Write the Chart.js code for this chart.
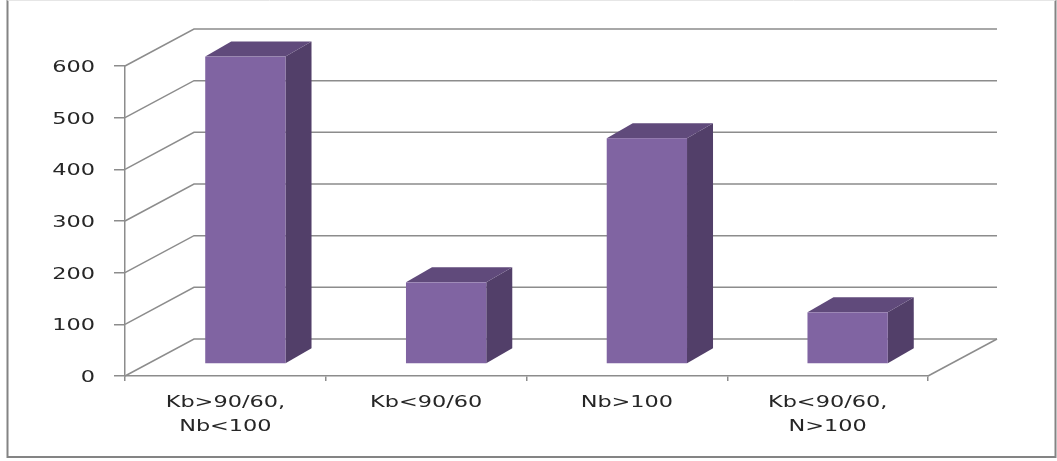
<!DOCTYPE html>
<html>
<head>
<meta charset="utf-8">
<script src="https://cdn.jsdelivr.net/npm/chart.js@4/dist/chart.umd.min.js"></script>
<style>
  html, body { margin: 0; padding: 0; background: #ffffff; }
  #wrap { width: 1057px; height: 461px; position: relative; }
</style>
</head>
<body>
<div id="wrap"><canvas id="c" width="1057" height="461"></canvas></div>
<script>
// ---- data ----
const categories = [["Kb>90/60,", "Nb<100"], ["Kb<90/60"], ["Nb>100"], ["Kb<90/60,", "N>100"]];
const values = [595, 158, 437, 100];
const yMin = 0;
const yMax = 600;
const yStep = 100;

// ---- style ----
const GRID = '#8c8c8c';
const TEXT = '#262626';
const FRONT = '#8064A2';
const SIDE = '#523F69';
const TOP = '#604A7B';
const WALL_DX = 69, WALL_DY = -37;   // depth of the back wall
const BAR_DX = 20, BAR_DY = -12;     // bar front plane offset
const DEPTH_DX = 26, DEPTH_DY = -15; // bar depth
const FONT = '16px "DejaVu Sans"';
const STRETCH = 1.4;

function stretchedText(ctx, txt, x, y, align) {
  ctx.save();
  ctx.translate(x, y);
  ctx.scale(STRETCH, 1);
  ctx.textAlign = align;
  ctx.textBaseline = 'middle';
  ctx.fillText(txt, 0, 0);
  ctx.restore();
}

const threeD = {
  id: 'threeD',
  beforeDatasetsDraw(chart) {
    const ctx = chart.ctx;
    const ys = chart.scales.y;
    const a = chart.chartArea;
    ctx.save();
    ctx.strokeStyle = GRID;
    ctx.lineWidth = 1.5;
    ys.ticks.forEach((t) => {
      const py = ys.getPixelForValue(t.value);
      ctx.beginPath();
      ctx.moveTo(a.left, py);
      ctx.lineTo(a.left + WALL_DX, py + WALL_DY);
      ctx.lineTo(a.right + WALL_DX, py + WALL_DY);
      ctx.stroke();
    });
    // right floor edge
    const base = ys.getPixelForValue(yMin);
    ctx.beginPath();
    ctx.moveTo(a.right, base);
    ctx.lineTo(a.right + WALL_DX, base + WALL_DY);
    ctx.stroke();
    ctx.restore();
  },
  afterDatasetsDraw(chart) {
    const ctx = chart.ctx;
    const meta = chart.getDatasetMeta(0);
    ctx.save();
    meta.data.forEach((el) => {
      const p = el.getProps(['x', 'y', 'base', 'width'], true);
      const xl = p.x - p.width / 2 + BAR_DX;
      const xr = p.x + p.width / 2 + BAR_DX;
      const yt = p.y + BAR_DY;
      const yb = p.base + BAR_DY;
      // side
      ctx.fillStyle = SIDE;
      ctx.beginPath();
      ctx.moveTo(xr, yt);
      ctx.lineTo(xr + DEPTH_DX, yt + DEPTH_DY);
      ctx.lineTo(xr + DEPTH_DX, yb + DEPTH_DY);
      ctx.lineTo(xr, yb);
      ctx.closePath();
      ctx.fill();
      // top
      ctx.fillStyle = TOP;
      ctx.beginPath();
      ctx.moveTo(xl, yt);
      ctx.lineTo(xl + DEPTH_DX, yt + DEPTH_DY);
      ctx.lineTo(xr + DEPTH_DX, yt + DEPTH_DY);
      ctx.lineTo(xr, yt);
      ctx.closePath();
      ctx.fill();
      // front
      ctx.fillStyle = FRONT;
      ctx.fillRect(xl, yt, xr - xl, yb - yt);
    });
    ctx.restore();
  },
  afterDraw(chart) {
    const ctx = chart.ctx;
    const ys = chart.scales.y;
    const xs = chart.scales.x;
    ctx.save();
    ctx.font = FONT;
    ctx.fillStyle = TEXT;
    ys.ticks.forEach((t) => {
      const py = ys.getPixelForValue(t.value);
      stretchedText(ctx, String(t.value), chart.chartArea.left - 30, py + 2, 'right');
    });
    categories.forEach((lines, i) => {
      const px = xs.getPixelForValue(i);
      lines.forEach((ln, j) => {
        stretchedText(ctx, ln, px, chart.chartArea.bottom + 27 + j * 24, 'center');
      });
    });
    // outer frame
    ctx.strokeStyle = '#848484';
    ctx.lineWidth = 2;
    ctx.beginPath();
    ctx.moveTo(7.5, 0);
    ctx.lineTo(7.5, 457);
    ctx.lineTo(1055.5, 457);
    ctx.lineTo(1055.5, 0);
    ctx.stroke();
    ctx.strokeStyle = '#e6e6e6';
    ctx.lineWidth = 1;
    ctx.beginPath();
    ctx.moveTo(7.5, 0.5);
    ctx.lineTo(1055.5, 0.5);
    ctx.stroke();
    ctx.restore();
  }
};

new Chart(document.getElementById('c'), {
  type: 'bar',
  data: {
    labels: categories,
    datasets: [{
      data: values,
      backgroundColor: 'rgba(0,0,0,0)',
      borderWidth: 0,
      categoryPercentage: 1.0,
      barPercentage: 0.4
    }]
  },
  options: {
    responsive: false,
    animation: false,
    events: [],
    layout: { padding: { left: 0, top: 66, right: 129, bottom: 0 } },
    plugins: { legend: { display: false }, tooltip: { enabled: false }, title: { display: false } },
    scales: {
      x: {
        offset: true,
        grid: { display: true, drawOnChartArea: false, drawTicks: true, tickLength: 5, color: GRID, lineWidth: 1.5, offset: true },
        border: { display: true, color: GRID, width: 1.5 },
        ticks: { color: 'rgba(0,0,0,0)', font: { size: 16 }, maxRotation: 0, autoSkip: false },
        afterFit: (s) => { s.height = 85; }
      },
      y: {
        min: yMin,
        max: yMax,
        ticks: { stepSize: yStep, color: 'rgba(0,0,0,0)', font: { size: 16 } },
        grid: { display: true, drawOnChartArea: false, drawTicks: true, tickLength: 11, color: GRID, lineWidth: 1.5 },
        border: { display: true, color: GRID, width: 1.5 },
        afterFit: (s) => { s.width = 125; }
      }
    }
  },
  plugins: [threeD]
});
</script>
</body>
</html>
